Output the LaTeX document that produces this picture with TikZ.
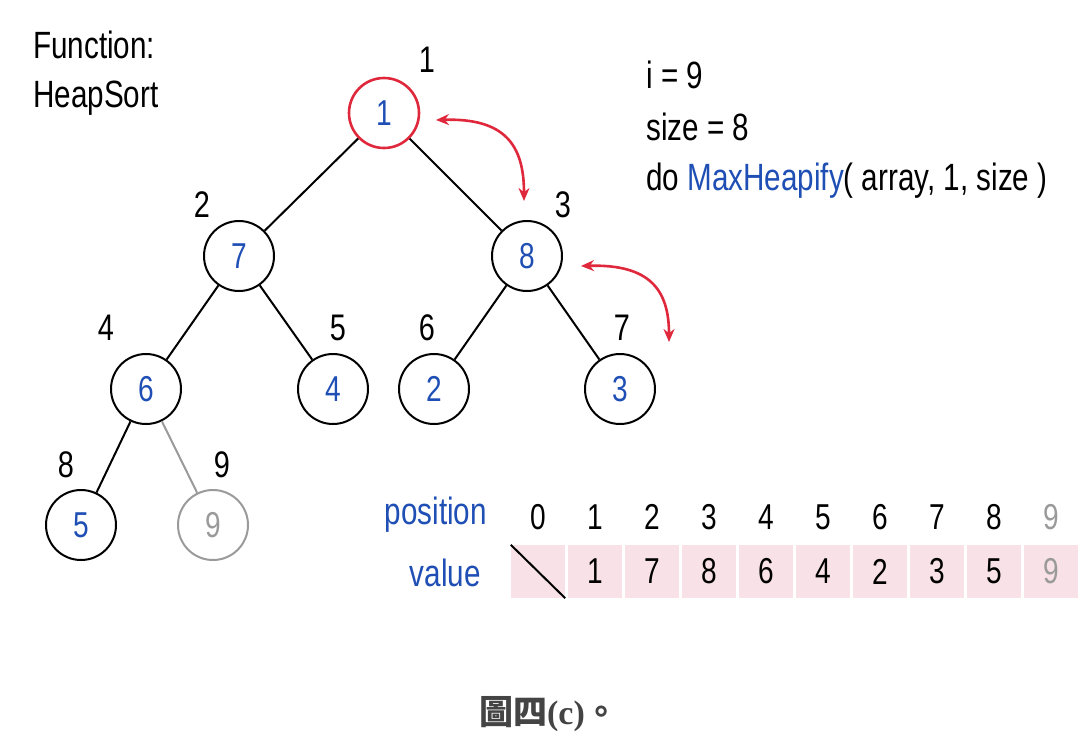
\documentclass[tikz,border=0pt]{standalone}
\usepackage{fontspec}
\usetikzlibrary{arrows.meta}
\setmainfont[FakeStretch=0.78]{Liberation Sans}
\newfontfamily\cjkfont{Noto Sans CJK TC}
\newfontfamily\capserif{Liberation Serif}
\definecolor{numblue}{HTML}{1F4FB5}
\definecolor{swapred}{HTML}{E0283C}
\definecolor{cellpink}{HTML}{F8E2E7}
\definecolor{fadegray}{HTML}{9A9A9A}
\definecolor{capgray}{HTML}{444444}
\tikzset{
  heapnode/.style={circle, draw=black, line width=2pt, minimum size=70pt, inner sep=0pt,
    text=numblue, font=\fontsize{36}{36}\selectfont},
  rootnode/.style={heapnode, draw=swapred, line width=2.6pt},
  oldnode/.style={heapnode, draw=fadegray, text=fadegray},
  idx/.style={font=\fontsize{37}{37}\selectfont, text=black},
  edge/.style={line width=2pt, draw=black},
  oldedge/.style={line width=2pt, draw=fadegray},
  swaparrow/.style={draw=swapred, line width=2.6pt, {Stealth[length=13pt,width=11pt]}-{Stealth[length=13pt,width=11pt]}},
  txt/.style={font=\fontsize{38}{40}\selectfont, anchor=west, inner sep=0pt},
  cell/.style={fill=cellpink, draw=none, minimum width=54pt, minimum height=53pt, inner sep=0pt},
  celltxt/.style={font=\fontsize{36}{36}\selectfont, inner sep=0pt},
}
\begin{document}
\begin{tikzpicture}[x=1pt, y=-1pt]
\useasboundingbox (0,0) rectangle (1086,742);

% heading
\node[txt] (fn) at (33,45) {Function:};
\node[txt] (hs) at (33,98) {HeapSort};

% heap nodes
\node[rootnode] (n1) at (384,113) {1};
\node[heapnode] (n2) at (239,256) {7};
\node[heapnode] (n3) at (527,256) {8};
\node[heapnode] (n4) at (146,389) {6};
\node[heapnode] (n5) at (333,389) {4};
\node[heapnode] (n6) at (434,389) {2};
\node[heapnode] (n7) at (620,389) {3};
\node[heapnode] (n8) at (81,525) {5};
\node[oldnode]  (n9) at (213,525) {9};

% index labels
\node[idx] (i1) at (427,60) {1};
\node[idx] (i2) at (202,205) {2};
\node[idx] (i3) at (563,205) {3};
\node[idx] (i4) at (106,328) {4};
\node[idx] (i5) at (338,328) {5};
\node[idx] (i6) at (427,328) {6};
\node[idx] (i7) at (622,328) {7};
\node[idx] (i8) at (66,465) {8};
\node[idx] (i9) at (222,465) {9};

% tree edges
\draw[edge] (n1) -- (n2);
\draw[edge] (n1) -- (n3);
\draw[edge] (n2) -- (n4);
\draw[edge] (n2) -- (n5);
\draw[edge] (n3) -- (n6);
\draw[edge] (n3) -- (n7);
\draw[edge] (n4) -- (n8);
\draw[oldedge] (n4) -- (n9);

% swap arrows
\coordinate (a1s) at (436,120);
\coordinate (a1e) at (524,201);
\coordinate (a2s) at (581,266);
\coordinate (a2e) at (669,342);
\draw[swaparrow] (a1s) .. controls (505,118) and (524,145) .. (a1e);
\draw[swaparrow] (a2s) .. controls (650,264) and (669,290) .. (a2e);

% code text
\node[txt] (l1) at (646,75) {i = 9};
\node[txt] (l2) at (646,127) {size = 8};
\node[txt] (l3) at (646,181) {do \textcolor{numblue}{MaxHeapify}( array, 1, size )};

% array table
\node[txt, anchor=east, text=numblue] (pos) at (487,515) {position};
\node[txt, anchor=east, text=numblue] (val) at (481,573) {value};
\foreach \i/\v in {1/1,2/7,3/8,4/6,5/4,6/2,7/3,8/5} {
  \node[celltxt] (p\i) at (538+57*\i,517) {\i};
  \node[cell] (c\i) at (538+57*\i,571.5) {};
  \node[celltxt] (v\i) at (c\i) {\v};
}
\node[celltxt] (p0) at (538,517) {0};
\node[cell] (c0) at (538,571.5) {};
\draw[line width=2pt] (c0.north west) -- (c0.south east);
\node[celltxt, text=fadegray] (p9) at (1051,517) {9};
\node[cell] (c9) at (1051,571.5) {};
\node[celltxt, text=fadegray] (v9) at (c9) {9};

% caption
\node[text=capgray, font=\fontsize{34}{34}\selectfont] (cap) at (549,714)
  {\cjkfont\bfseries 圖四\capserif\bfseries(c)\cjkfont 。};
\end{tikzpicture}
\end{document}
